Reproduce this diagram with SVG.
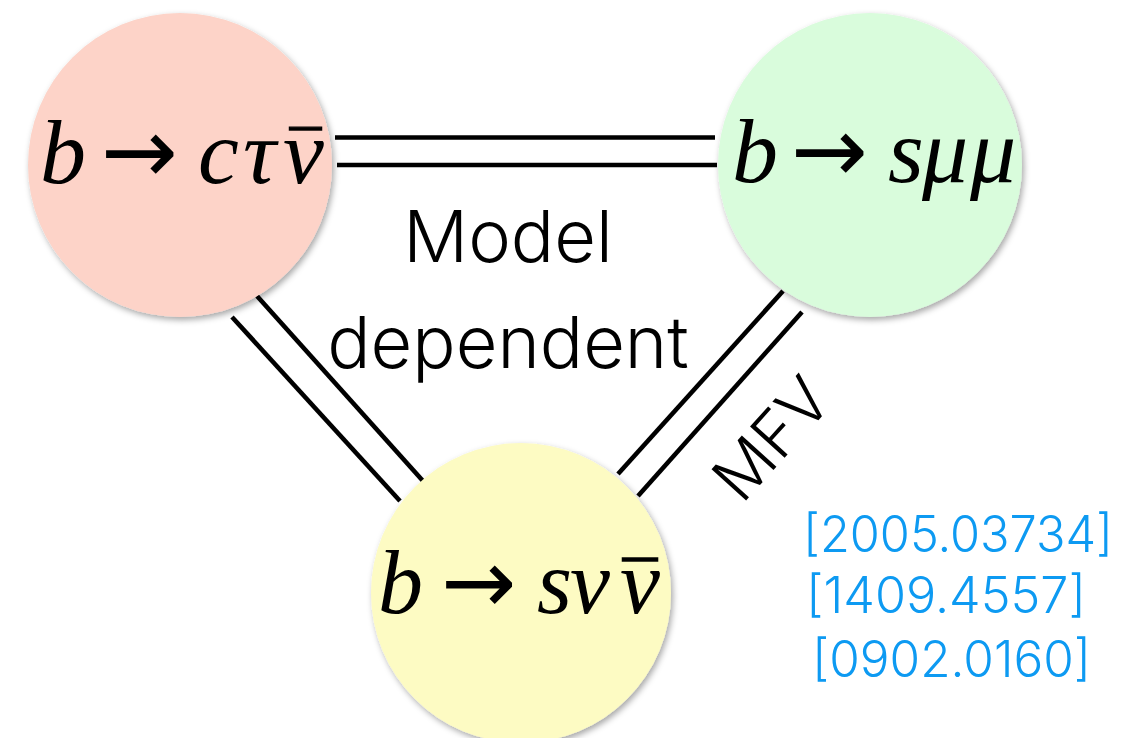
<svg xmlns="http://www.w3.org/2000/svg" width="1138" height="738" viewBox="0 0 1138 738">
  <defs>
    <filter id="shadow" x="-20%" y="-20%" width="140%" height="140%">
      <feDropShadow dx="2" dy="3" stdDeviation="3" flood-color="#000" flood-opacity="0.35"/>
    </filter>
  </defs>
  <style>
    .math { font-family: "Liberation Serif", "DejaVu Serif", serif; font-size: 92px; fill: #000; }
    .it { font-style: italic; }
    .arr { font-family: "DejaVu Sans", sans-serif; font-style: normal; }
    .bar { stroke: #000; stroke-width: 1.4; }
    .label { font-family: Inter, "Liberation Sans", sans-serif; font-weight: 300; fill: #000; }
    .ref { font-family: Inter, "Liberation Sans", sans-serif; font-weight: 300; font-size: 50px; fill: #0d9af2; }
    .link { stroke: #000; stroke-width: 4.6; fill: none; }
  </style>
  <rect width="1138" height="738" fill="#fff"/>
  <g id="connectors">
    <line class="link" x1="335" y1="137.5" x2="715" y2="137.5"/>
    <line class="link" x1="337" y1="165" x2="717" y2="165"/>
    <line class="link" x1="257" y1="296" x2="423" y2="481"/>
    <line class="link" x1="232" y1="317" x2="400" y2="501"/>
    <line class="link" x1="783" y1="291" x2="618" y2="474"/>
    <line class="link" x1="802" y1="312" x2="638" y2="496"/>
  </g>
  <g id="node-bctaunu">
    <circle cx="180" cy="165" r="152" fill="#fdd3c8" filter="url(#shadow)"/>
    <text class="math" y="183"><tspan class="it" x="40">b</tspan><tspan class="arr" x="101">→</tspan><tspan class="it" x="198">c</tspan><tspan class="it" x="243">τ</tspan><tspan class="it" x="283">ν</tspan><tspan class="bar" x="290" y="174" style="font-size:62px">¯</tspan></text>
  </g>
  <g id="node-bsmumu">
    <circle cx="870" cy="165" r="152" fill="#d9fcdc" filter="url(#shadow)"/>
    <text class="math" y="182"><tspan class="it" x="732">b</tspan><tspan class="arr" x="791">→</tspan><tspan class="it" x="888">s</tspan><tspan class="it" x="922">μ</tspan><tspan class="it" x="970">μ</tspan></text>
  </g>
  <g id="node-bsnunu">
    <circle cx="521" cy="593" r="150" fill="#fdfbc3" filter="url(#shadow)"/>
    <text class="math" y="613" style="font-size:90px"><tspan class="it" x="378">b</tspan><tspan class="arr" x="441">→</tspan><tspan class="it" x="537">s</tspan><tspan class="it" x="570">ν</tspan><tspan class="it" x="620">ν</tspan><tspan class="bar" x="623" y="609" style="font-size:68px">¯</tspan></text>
  </g>
  <g id="label-model">
    <text class="label" x="508" y="262" font-size="72" text-anchor="middle">Model</text>
    <text class="label" x="508" y="368" font-size="72" text-anchor="middle">dependent</text>
  </g>
  <g id="label-mfv">
    <text class="label" x="742" y="505" font-size="64" transform="rotate(-48 742 505)">MFV</text>
  </g>
  <g id="refs">
    <text class="ref" x="803" y="552" textLength="310" lengthAdjust="spacingAndGlyphs">[2005.03734]</text>
    <text class="ref" x="806" y="613" textLength="280" lengthAdjust="spacingAndGlyphs">[1409.4557]</text>
    <text class="ref" x="812" y="677" textLength="279" lengthAdjust="spacingAndGlyphs">[0902.0160]</text>
  </g>
</svg>
